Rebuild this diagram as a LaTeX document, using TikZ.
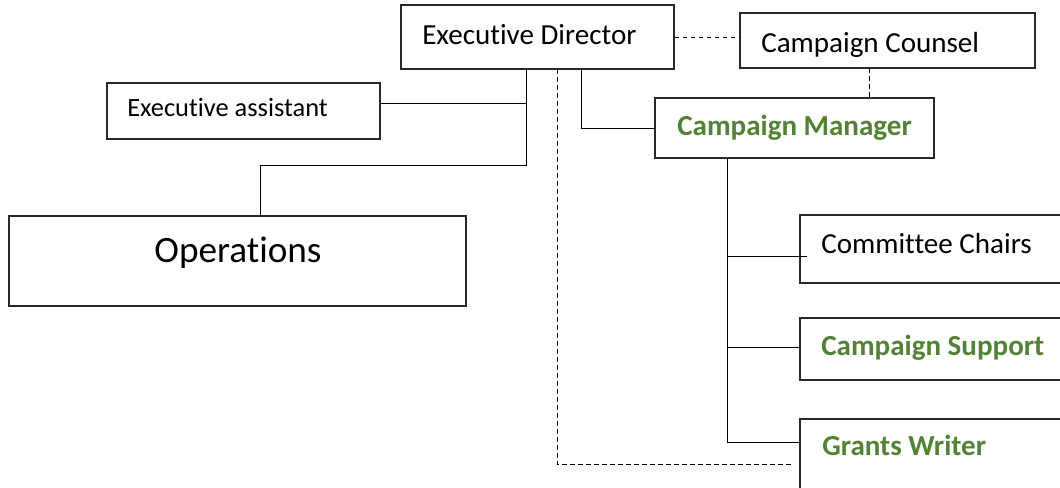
\documentclass[tikz,border=0pt]{standalone}
\usepackage{fontspec}
\setmainfont{Carlito}[Ligatures={NoCommon}]
\usetikzlibrary{fit}
\definecolor{leafgreen}{RGB}{84,130,53}
\definecolor{edge}{RGB}{40,40,40}
\tikzset{
  x=0.75pt, y=-0.75pt,
  box/.style={draw=edge, line width=0.9pt, inner sep=0pt, fill=white},
  lbl/.style={anchor=base west, inner sep=0pt, font=\fontsize{21.8}{26}\selectfont},
  keylbl/.style={lbl, text=leafgreen, font=\fontsize{21.8}{26}\selectfont\bfseries},
  link/.style={draw=black, line width=0.75pt},
  dotlink/.style={link, dash pattern=on 3.6pt off 2.4pt},
}
\begin{document}
\begin{tikzpicture}
\useasboundingbox (0,0) rectangle (1060,487);
\clip (0,0) rectangle (1060,487);

% boxes
\node[box, fit={(401,5) (674,69)}] (ed) {};
\node[box, fit={(740,13) (1035,68)}] (cc) {};
\node[box, fit={(107,83) (380,139)}] (ea) {};
\node[box, fit={(655,98) (934,158)}] (cm) {};
\node[box, fit={(9,216) (466,306)}] (ops) {};
\node[box, fit={(800,215) (1075,283)}] (chairs) {};
\node[box, fit={(800,318) (1075,380)}] (support) {};
\node[box, fit={(800,419) (1075,500)}] (grants) {};

% labels
\node[lbl] (ed-t) at (422,44) {Executive Director};
\node[lbl] (cc-t) at (761,52) {Campaign Counsel};
\node[lbl, font=\fontsize{19.8}{24}\selectfont] (ea-t) at (127,116) {Executive assistant};
\node[keylbl] (cm-t) at (677,135) {Campaign Manager};
\node[lbl, anchor=base, font=\fontsize{27.9}{33}\selectfont] (ops-t) at (238,262) {Operations};
\node[lbl] (chairs-t) at (821,253) {Committee Chairs};
\node[keylbl] (support-t) at (821,355) {Campaign Support};
\node[keylbl] (grants-t) at (822,455) {Grants Writer};

% connection points
\coordinate (edA) at (526,69);
\coordinate (edB) at (557,69);
\coordinate (edC) at (581,69);
\coordinate (eaOut) at (380,103);
\coordinate (opsIn) at (260,216);
\coordinate (ccOut) at (869,68);
\coordinate (cmIn) at (869,98);
\coordinate (cmOut) at (727,158);
\coordinate (chairsIn) at (807,256);
\coordinate (supportIn) at (800,347);
\coordinate (grantsIn) at (800,442);
\coordinate (grantsDot) at (792,464);

% solid reporting lines
\draw[link] (eaOut) -- (eaOut -| edA);
\draw[link] (edA) -- (526,165) -| (opsIn);
\draw[link] (edC) |- (cm.west);
\draw[link] (cmOut) |- (grantsIn);
\draw[link] (cmOut |- chairsIn) -- (chairsIn);
\draw[link] (cmOut |- supportIn) -- (supportIn);

% dotted advisory lines
\draw[dotlink] (ed.east) -- (ed.east -| cc.west);
\draw[dotlink] (ccOut) -- (cmIn);
\draw[dotlink] (edB) |- (grantsDot);
\end{tikzpicture}
\end{document}
